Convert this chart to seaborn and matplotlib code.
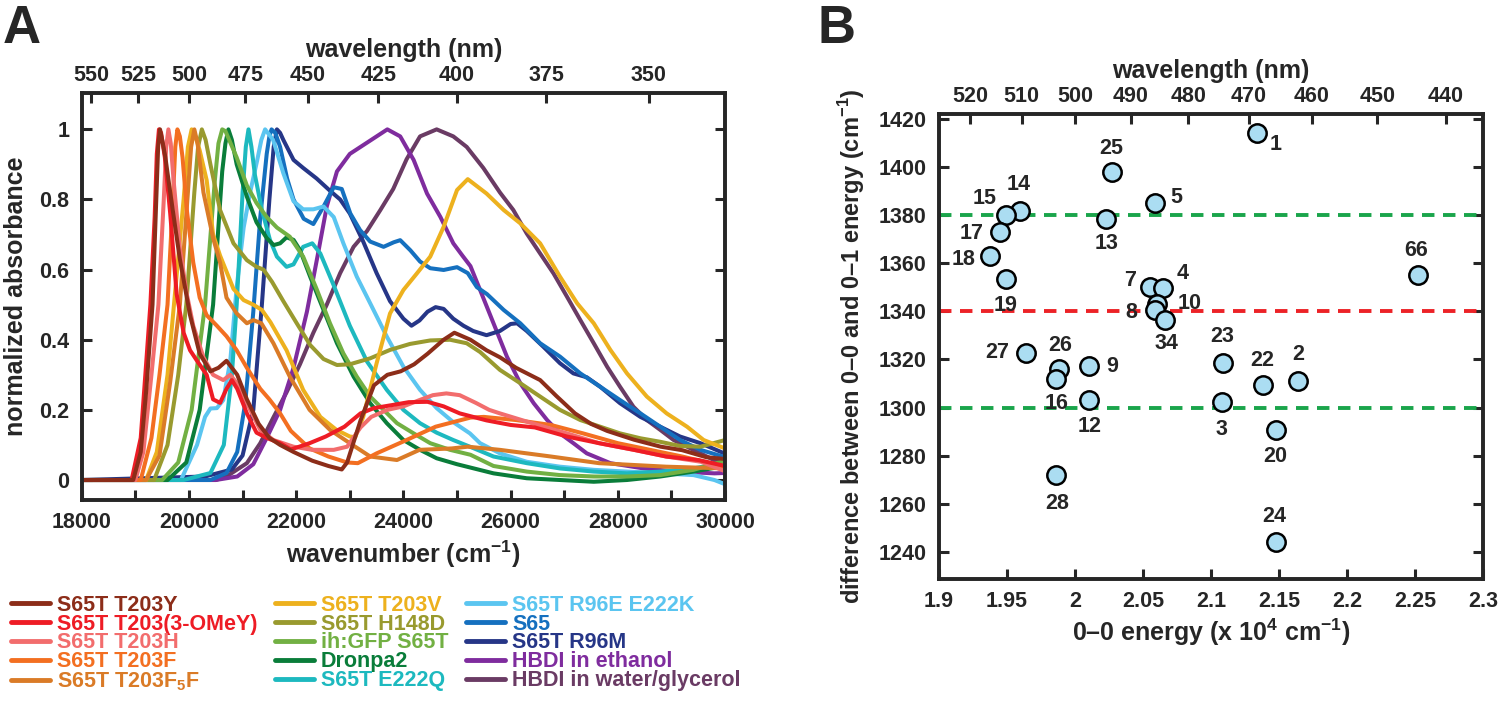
import numpy as np
import pandas as pd
import matplotlib
matplotlib.use("Agg")
import matplotlib.pyplot as plt
import seaborn as sns
from matplotlib.lines import Line2D

# ---------------- Panel A: normalized absorbance spectra ----------------
names = ["S65T T203Y", "S65T T203(3-OMeY)", "S65T T203H", "S65T T203F",
         "S65T T203F5F", "S65T T203V", "S65T H148D", "ih:GFP S65T", "Dronpa2",
         "S65T E222Q", "S65T R96E E222K", "S65", "S65T R96M",
         "HBDI in ethanol", "HBDI in water/glycerol"]
colors = ["#8C2D19", "#EE1C25", "#F26D6D", "#F36F21", "#DA7B27", "#EDB11E",
          "#999A2F", "#72B043", "#0A7D3A", "#1DB9BF", "#5BC5F0", "#1570BF",
          "#263687", "#7F2C9E", "#6A3B64"]

t203y_wn = [18000, 18960, 19100, 19200, 19320, 19390, 19425, 19460, 19500, 19560, 19650, 19830, 20020,
            20200, 20400, 20550, 20700, 20900, 21080, 21300, 21500, 21700, 21950, 22300, 22600, 22850,
            22950, 23200, 23450, 23700, 23950, 24200, 24450, 24750, 24950, 25250, 25550, 25800, 26100,
            26550, 26850, 27200, 27500, 27800, 28300, 28800, 29200, 29650, 30000]
t203y_abs = [0, 0, 0.08, 0.25, 0.5, 0.8, 0.95, 1.0, 0.97, 0.92, 0.82, 0.63, 0.47,
             0.36, 0.31, 0.32, 0.34, 0.30, 0.23, 0.16, 0.12, 0.10, 0.08, 0.055, 0.04, 0.03,
             0.05, 0.17, 0.27, 0.30, 0.31, 0.33, 0.36, 0.40, 0.42, 0.40, 0.37, 0.35, 0.32,
             0.285, 0.24, 0.19, 0.16, 0.14, 0.115, 0.095, 0.085, 0.065, 0.06]

ome_wn = [18000, 18930, 19100, 19200, 19280, 19360, 19400, 19440, 19480, 19550, 19650, 19770, 19900,
          20020, 20150, 20330, 20450, 20580, 20700, 20800, 20900, 21080, 21260, 21450, 21700, 21900,
          22250, 22550, 22900, 23200, 23450, 23800, 24100, 24450, 24750, 25050, 25550, 26000, 26450,
          27050, 27650, 28300, 28900, 29500, 30000]
ome_abs = [0, 0, 0.12, 0.33, 0.5, 0.75, 0.93, 1.0, 0.99, 0.92, 0.76, 0.53, 0.42,
           0.37, 0.34, 0.30, 0.23, 0.22, 0.26, 0.285, 0.26, 0.19, 0.135, 0.12, 0.105, 0.087,
           0.105, 0.124, 0.152, 0.19, 0.205, 0.214, 0.222, 0.223, 0.21, 0.19, 0.17, 0.157, 0.15,
           0.124, 0.105, 0.086, 0.067, 0.057, 0.04]

t203h_wn = [18000, 19000, 19150, 19300, 19430, 19530, 19575, 19616, 19660, 19710, 19830, 19960, 20080,
            20270, 20450, 20640, 20770, 20950, 21140, 21330, 21575, 21950, 22300, 22700, 22950, 23200,
            23400, 23700, 24000, 24300, 24550, 24800, 25050, 25350, 25600, 25800, 26400, 27050, 27650,
            28300, 28900, 29550, 30000]
t203h_abs = [0, 0, 0.08, 0.3, 0.5, 0.8, 0.95, 1.0, 0.96, 0.86, 0.66, 0.53, 0.44,
             0.35, 0.30, 0.285, 0.30, 0.265, 0.2, 0.143, 0.114, 0.095, 0.086, 0.086, 0.095, 0.15,
             0.18, 0.2, 0.21, 0.228, 0.242, 0.247, 0.242, 0.22, 0.2, 0.19, 0.162, 0.133, 0.105,
             0.086, 0.067, 0.052, 0.025]

t203f_wn = [18000, 19100, 19300, 19450, 19600, 19700, 19745, 19784, 19830, 19880, 19960, 20080, 20200,
            20330, 20520, 20700, 20890, 21080, 21330, 21500, 21700, 21900, 22250, 22600, 22950, 23150,
            23500, 24000, 24600, 25250, 25500, 26100, 26750, 27350, 28000, 28600, 29200, 30000]
t203f_abs = [0, 0, 0.12, 0.3, 0.5, 0.8, 0.95, 1.0, 0.98, 0.92, 0.77, 0.62, 0.52,
             0.47, 0.44, 0.41, 0.37, 0.32, 0.26, 0.23, 0.19, 0.14, 0.09, 0.067, 0.05, 0.048,
             0.076, 0.11, 0.152, 0.178, 0.18, 0.171, 0.157, 0.133, 0.105, 0.086, 0.067, 0.038]

f5f_wn = [18000, 19200, 19450, 19650, 19830, 19980, 20040, 20100, 20160, 20270, 20450, 20580, 20700,
          20890, 21080, 21200, 21350, 21575, 21880, 22250, 22630, 23000, 23380, 23880, 24300, 24900,
          25200, 25800, 26750, 27650, 28900, 30000]
f5f_abs = [0, 0, 0.07, 0.28, 0.5, 0.82, 0.95, 1.0, 0.96, 0.82, 0.69, 0.62, 0.52,
           0.475, 0.447, 0.456, 0.447, 0.39, 0.295, 0.2, 0.143, 0.105, 0.067, 0.057, 0.086, 0.09,
           0.095, 0.086, 0.067, 0.048, 0.038, 0.033]

t203v_wn = [18000, 19200, 19400, 19600, 19720, 19900, 19980, 20050, 20120, 20200, 20330, 20450, 20580,
            20830, 21020, 21200, 21360, 21520, 21820, 22130, 22450, 22750, 23000, 23100, 23250, 23500,
            23750, 24000, 24250, 24500, 24750, 25000, 25200, 25550, 25870, 26180, 26550, 26920, 27240,
            27550, 27860, 28170, 28540, 28910, 29290, 29600, 30000]
t203v_abs = [0, 0, 0.08, 0.3, 0.5, 0.8, 0.95, 1.0, 0.98, 0.94, 0.855, 0.7, 0.64,
             0.545, 0.513, 0.5, 0.485, 0.45, 0.37, 0.257, 0.18, 0.143, 0.124, 0.122, 0.18, 0.333,
             0.475, 0.542, 0.589, 0.637, 0.722, 0.827, 0.858, 0.817, 0.77, 0.732, 0.675, 0.58, 0.504,
             0.447, 0.371, 0.304, 0.238, 0.19, 0.152, 0.114, 0.09]

h148d_wn = [18000, 19350, 19600, 19800, 19950, 20100, 20170, 20240, 20310, 20400, 20580, 20830, 21080,
            21260, 21390, 21550, 21760, 22010, 22260, 22510, 22760, 23000, 23380, 23750, 24120, 24500,
            24870, 25180, 25430, 25800, 26180, 26550, 26920, 27300, 27670, 28040, 28420, 28790, 29160,
            29540, 30000]
h148d_abs = [0, 0, 0.1, 0.3, 0.5, 0.82, 0.95, 1.0, 0.97, 0.9, 0.77, 0.675, 0.627,
             0.608, 0.6, 0.565, 0.51, 0.447, 0.385, 0.345, 0.328, 0.33, 0.347, 0.371, 0.388, 0.398,
             0.4, 0.39, 0.365, 0.314, 0.276, 0.238, 0.2, 0.171, 0.152, 0.133, 0.119, 0.109, 0.097,
             0.095, 0.114]

ihgfp_wn = [18000, 19500, 19800, 20050, 20300, 20480, 20550, 20620, 20680, 20750, 20890, 21080, 21260,
            21450, 21640, 21880, 22130, 22380, 22630, 22880, 23130, 23380, 23630, 23880, 24190, 24500,
            24870, 25250, 25680, 26300, 26920, 27550, 28170, 28790, 29410, 30000]
ihgfp_abs = [0, 0, 0.05, 0.2, 0.5, 0.85, 0.96, 1.0, 0.995, 0.97, 0.92, 0.84, 0.79,
             0.75, 0.72, 0.694, 0.637, 0.545, 0.447, 0.361, 0.295, 0.238, 0.2, 0.162, 0.133, 0.105,
             0.086, 0.072, 0.04, 0.024, 0.014, 0.01, 0.01, 0.014, 0.029, 0.055]

dronpa_wn = [18000, 19600, 19950, 20200, 20450, 20620, 20680, 20735, 20800, 20890, 21080, 21260, 21450,
             21580, 21700, 21820, 21950, 22070, 22260, 22510, 22760, 23070, 23380, 23690, 24000, 24310,
             24620, 25000, 25680, 26300, 26920, 27550, 28170, 28790, 29410, 30000]
dronpa_abs = [0, 0, 0.05, 0.2, 0.5, 0.88, 0.96, 1.0, 0.97, 0.9, 0.808, 0.735, 0.69,
              0.67, 0.675, 0.692, 0.685, 0.656, 0.58, 0.485, 0.39, 0.295, 0.219, 0.162, 0.114, 0.086,
              0.062, 0.045, 0.019, 0.005, 0.0, -0.005, 0.0, 0.01, 0.024, 0.04]

e222q_wn = [18000, 19900, 20400, 20650, 20800, 20890, 21000, 21060, 21110, 21165, 21230, 21360, 21510,
            21640, 21820, 21950, 22130, 22300, 22450, 22700, 23000, 23320, 23690, 24000, 24310, 24620,
            24930, 25240, 25680, 26300, 26920, 27550, 28170, 28790, 29410, 30000]
e222q_abs = [0, 0, 0.02, 0.1, 0.3, 0.5, 0.82, 0.95, 1.0, 0.95, 0.87, 0.77, 0.685,
             0.637, 0.608, 0.615, 0.665, 0.675, 0.646, 0.555, 0.44, 0.338, 0.257, 0.2, 0.162, 0.135,
             0.114, 0.095, 0.067, 0.048, 0.033, 0.024, 0.019, 0.024, 0.033, 0.05]

r96e_wn = [18000, 19850, 20150, 20300, 20400, 20520, 20640, 20770, 20890, 21020, 21140, 21270, 21350,
           21420, 21570, 21760, 21950, 22130, 22320, 22510, 22700, 22880, 23130, 23380, 23690, 24000,
           24310, 24620, 24930, 25240, 25430, 25800, 26300, 26920, 27550, 28170, 28790, 29410, 29800,
           30000]
r96e_abs = [0, 0, 0.1, 0.18, 0.204, 0.205, 0.228, 0.34, 0.55, 0.72, 0.82, 0.91, 0.97,
            1.0, 0.97, 0.875, 0.795, 0.772, 0.772, 0.78, 0.75, 0.675, 0.58, 0.504, 0.409, 0.323,
            0.257, 0.205, 0.165, 0.133, 0.105, 0.076, 0.052, 0.038, 0.029, 0.024, 0.019, 0.014, 0.0,
            -0.012]

s65_wn = [18000, 20400, 20700, 20900, 21050, 21200, 21330, 21450, 21500, 21540, 21610, 21700, 21830,
          21950, 22140, 22320, 22510, 22700, 22850, 23010, 23190, 23380, 23630, 23820, 23940, 24130,
          24310, 24500, 24750, 25000, 25200, 25370, 25560, 25870, 26180, 26550, 26920, 27300, 27670,
          28040, 28420, 28790, 29160, 29540, 30000]
s65_abs = [0, 0, 0.02, 0.08, 0.22, 0.48, 0.75, 0.93, 0.98, 1.0, 0.99, 0.95, 0.86,
           0.8, 0.745, 0.73, 0.78, 0.835, 0.83, 0.76, 0.713, 0.68, 0.665, 0.678, 0.684, 0.655,
           0.623, 0.604, 0.599, 0.607, 0.59, 0.55, 0.53, 0.485, 0.447, 0.39, 0.352, 0.304, 0.266,
           0.228, 0.19, 0.152, 0.114, 0.086, 0.065]

r96m_wn = [18000, 20300, 20800, 21000, 21200, 21360, 21500, 21580, 21640, 21700, 21760, 21950, 22130,
           22380, 22630, 22820, 23000, 23250, 23500, 23750, 24000, 24150, 24300, 24450, 24600, 24750,
           24930, 25120, 25300, 25550, 25800, 26000, 26120, 26300, 26610, 26920, 27170, 27420, 27670,
           28040, 28420, 28790, 29160, 29540, 30000]
r96m_abs = [0, 0.01, 0.03, 0.07, 0.2, 0.5, 0.8, 0.95, 1.0, 0.99, 0.97, 0.913, 0.89,
            0.86, 0.825, 0.8, 0.76, 0.68, 0.59, 0.51, 0.46, 0.44, 0.455, 0.48, 0.493, 0.488,
            0.46, 0.44, 0.425, 0.413, 0.425, 0.445, 0.447, 0.425, 0.38, 0.333, 0.304, 0.293, 0.266,
            0.219, 0.18, 0.152, 0.124, 0.105, 0.075]

etoh_wn = [18000, 20500, 20900, 21200, 21450, 21700, 21950, 22200, 22400, 22570, 22760, 23000, 23200,
           23400, 23700, 23940, 24190, 24440, 24690, 24930, 25100, 25250, 25430, 25680, 25930, 26180,
           26430, 26680, 26920, 27170, 27420, 27860, 28480, 29100, 29800, 30000]
etoh_abs = [0, 0, 0.01, 0.045, 0.12, 0.2, 0.32, 0.48, 0.64, 0.78, 0.88, 0.93, 0.95,
            0.97, 1.0, 0.98, 0.913, 0.817, 0.75, 0.675, 0.64, 0.61, 0.542, 0.447, 0.352, 0.276,
            0.219, 0.171, 0.133, 0.105, 0.076, 0.048, 0.033, 0.024, 0.019, 0.02]

glyc_wn = [18000, 20500, 20700, 21080, 21330, 21580, 21820, 22070, 22320, 22570, 22820, 23070, 23320,
           23570, 23810, 24060, 24310, 24620, 24930, 25180, 25490, 25800, 26050, 26300, 26550, 26800,
           27050, 27300, 27550, 27800, 28040, 28290, 28540, 28790, 29040, 29290, 29540, 29790, 30000]
glyc_abs = [0, 0, 0.01, 0.048, 0.105, 0.18, 0.25, 0.33, 0.42, 0.5, 0.59, 0.665, 0.71,
            0.77, 0.83, 0.915, 0.98, 1.0, 0.98, 0.95, 0.89, 0.82, 0.77, 0.703, 0.646, 0.589,
            0.523, 0.456, 0.39, 0.323, 0.266, 0.209, 0.171, 0.143, 0.114, 0.095, 0.076, 0.057, 0.048]

spectra = [(t203y_wn, t203y_abs), (ome_wn, ome_abs), (t203h_wn, t203h_abs), (t203f_wn, t203f_abs),
           (f5f_wn, f5f_abs), (t203v_wn, t203v_abs), (h148d_wn, h148d_abs), (ihgfp_wn, ihgfp_abs),
           (dronpa_wn, dronpa_abs), (e222q_wn, e222q_abs), (r96e_wn, r96e_abs), (s65_wn, s65_abs),
           (r96m_wn, r96m_abs), (etoh_wn, etoh_abs), (glyc_wn, glyc_abs)]

wl_ticks_a = [550, 525, 500, 475, 450, 425, 400, 375, 350]

# ---------------- Panel B: 0-0 energy vs vibronic spacing ----------------
point_ids = ["1", "25", "5", "14", "15", "13", "17", "18", "19", "66", "7", "4", "10", "8",
             "34", "27", "26", "9", "16", "23", "22", "2", "12", "3", "20", "28", "24"]
energy_00 = [2.134, 2.027, 2.0585, 1.9595, 1.949, 2.023, 1.9445, 1.9376, 1.9496, 2.252, 2.055,
             2.065, 2.060, 2.0585, 2.066, 1.964, 1.988, 2.010, 1.9857, 2.109, 2.138, 2.164,
             2.010, 2.108, 2.1475, 1.986, 2.1475]
delta_01 = [1414.1, 1398.0, 1385.0, 1381.7, 1379.9, 1378.5, 1372.9, 1362.8, 1353.3, 1355.1, 1350.1,
            1349.5, 1343.1, 1340.7, 1336.5, 1322.9, 1315.9, 1317.2, 1311.7, 1318.7, 1309.2, 1311.0,
            1303.2, 1302.4, 1290.8, 1271.9, 1244.0]
wl_ticks_b = [520, 510, 500, 490, 480, 470, 460, 450, 440]

# label placement (offset points) for the numbers next to the markers
label_offsets = {"1": (13, -8), "25": (0, 17), "5": (16, 4), "14": (-1, 19), "15": (-15, 12),
                 "13": (0, -18), "17": (-20, -1), "18": (-19, -2), "19": (-1, -19), "66": (-1, 18),
                 "7": (-14, 5), "4": (14, 11), "10": (24, 0), "8": (-17, -2), "34": (1, -17),
                 "27": (-21, 0), "26": (1, 17), "9": (17, 0), "16": (1, -17), "23": (-1, 19),
                 "22": (0, 18), "2": (0, 19), "12": (1, -19), "3": (0, -20), "20": (0, -19),
                 "28": (1, -20), "24": (-1, 19)}

# ---------------- style ----------------
sns.set_style("ticks")
plt.rcParams["font.family"] = ["Liberation Sans", "DejaVu Sans"]
plt.rcParams["font.weight"] = "bold"
plt.rcParams["axes.labelweight"] = "bold"
plt.rcParams["mathtext.fontset"] = "custom"
plt.rcParams["mathtext.rm"] = "Liberation Sans:bold"
plt.rcParams["mathtext.bf"] = "Liberation Sans:bold"
plt.rcParams["axes.linewidth"] = 2.6

TICK = 15.5
LAB = 18

fig = plt.figure(figsize=(15, 7.07), dpi=100)

# ---------------- Panel A ----------------
ax_a = fig.add_axes([0.0545, 0.2928, 0.4289, 0.5753])
rows = []
for name, (wn, ab) in zip(names, spectra):
    rows.append(pd.DataFrame({"wavenumber": wn, "absorbance": ab, "sample": name}))
df = pd.concat(rows, ignore_index=True)

sns.lineplot(data=df, x="wavenumber", y="absorbance", hue="sample",
             hue_order=names[::-1], palette=dict(zip(names, colors)),
             estimator=None, sort=False, linewidth=2.9, legend=False, ax=ax_a)

ax_a.set_xlim(18000, 30000)
ax_a.set_ylim(-0.057, 1.103)
ax_a.set_xticks(np.arange(18000, 30001, 1000))
ax_a.set_xticklabels([str(v) if v % 2000 == 0 else "" for v in range(18000, 30001, 1000)])
ax_a.set_yticks([0, 0.2, 0.4, 0.6, 0.8, 1.0])
ax_a.set_yticklabels(["0", "0.2", "0.4", "0.6", "0.8", "1"])
ax_a.tick_params(direction="in", length=7, width=2.2, labelsize=TICK, right=True, top=False, pad=9)
ax_a.set_xlabel(r"wavenumber (cm$^{-1}$)", fontsize=LAB, labelpad=4)
ax_a.set_ylabel("normalized absorbance", fontsize=LAB, labelpad=8)

top_a = ax_a.twiny()
top_a.set_xlim(ax_a.get_xlim())
top_a.set_xticks([1e7 / w for w in wl_ticks_a])
top_a.set_xticklabels([str(w) for w in wl_ticks_a])
top_a.tick_params(direction="in", length=7, width=2.2, labelsize=TICK, pad=5)
top_a.set_xlabel("wavelength (nm)", fontsize=LAB, labelpad=6)

handles = [Line2D([0], [0], color=c, lw=3.5) for c in colors]
leg_labels = [n if n != "S65T T203F5F" else r"S65T T203F$_{5}$F" for n in names]
fig.legend(handles, leg_labels, ncol=3, loc="upper left", bbox_to_anchor=(0.0, 0.174),
           frameon=False, handlelength=1.8, handletextpad=0.35,
           columnspacing=0.8, labelspacing=-0.1, borderpad=0, labelcolor="linecolor",
           prop={"weight": "bold", "size": TICK})

# ---------------- Panel B ----------------
ax_b = fig.add_axes([0.626, 0.18175, 0.36267, 0.657])
ax_b.axhline(1380, color="#1AA54B", lw=2.8, ls=(0, (3.2, 2.2)), zorder=1)
ax_b.axhline(1340, color="#EC2227", lw=2.8, ls=(0, (3.2, 2.2)), zorder=1)
ax_b.axhline(1300, color="#1AA54B", lw=2.8, ls=(0, (3.2, 2.2)), zorder=1)

sns.scatterplot(x=energy_00, y=delta_01, s=175, color="#ABDDF2", edgecolor="black",
                linewidth=1.8, ax=ax_b, zorder=3)
for pid, x, y in zip(point_ids, energy_00, delta_01):
    ax_b.annotate(pid, (x, y), xytext=label_offsets[pid], textcoords="offset points",
                  ha="center", va="center", fontsize=TICK, fontweight="bold")

ax_b.set_xlim(1.9, 2.3)
ax_b.set_ylim(1229, 1422)
xt = [1.9, 1.95, 2.0, 2.05, 2.1, 2.15, 2.2, 2.25, 2.3]
ax_b.set_xticks(xt)
ax_b.set_xticklabels(["1.9", "1.95", "2", "2.05", "2.1", "2.15", "2.2", "2.25", "2.3"])
ax_b.set_yticks(np.arange(1240, 1421, 20))
ax_b.tick_params(direction="in", length=7, width=2.2, labelsize=TICK, right=True, top=False, pad=9)
ax_b.set_xlabel(r"0–0 energy (x 10$^{4}$ cm$^{-1}$)", fontsize=LAB, labelpad=3)
ax_b.set_ylabel(r"difference between 0–0 and 0–1 energy (cm$^{-1}$)", fontsize=17, labelpad=8)

top_b = ax_b.twiny()
top_b.set_xlim(ax_b.get_xlim())
top_b.set_xticks([1000 / w for w in wl_ticks_b])
top_b.set_xticklabels([str(w) for w in wl_ticks_b])
top_b.tick_params(direction="in", length=7, width=2.2, labelsize=TICK, pad=5)
top_b.set_xlabel("wavelength (nm)", fontsize=LAB, labelpad=6)

fig.text(0.002, 0.995, "A", fontsize=38, fontweight="bold", va="top", ha="left")
fig.text(0.545, 0.995, "B", fontsize=38, fontweight="bold", va="top", ha="left")

fig.savefig("out.png", dpi=100)
